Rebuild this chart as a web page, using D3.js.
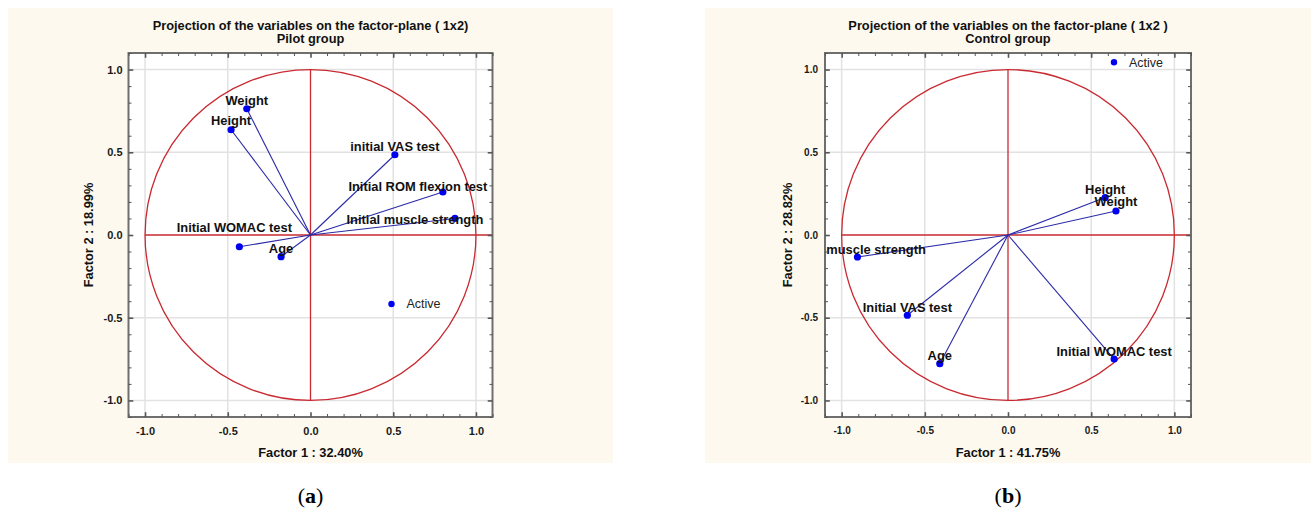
<!DOCTYPE html>
<html>
<head>
<meta charset="utf-8">
<script src="https://cdn.jsdelivr.net/npm/d3@7"></script>
<style>
  html, body { margin: 0; padding: 0; background: #ffffff; }
  svg { display: block; font-family: "Liberation Sans", Arial, sans-serif; }
</style>
</head>
<body>
<svg id="chart" width="1311" height="518"></svg>
<script>
// ---------- data ----------
const pilotVariables = ["Weight", "Height", "initial VAS test", "Initial ROM flexion test", "Initial muscle strength", "Initial WOMAC test", "Age"];
const pilotFactor1 = [-0.385, -0.48, 0.51, 0.80, 0.873, -0.43, -0.178];
const pilotFactor2 = [0.763, 0.636, 0.485, 0.26, 0.10, -0.071, -0.131];

const controlVariables = ["Height", "Weight", "Initial muscle strength", "Initial VAS test", "Age", "Initial WOMAC test"];
const controlFactor1 = [0.584, 0.649, -0.905, -0.605, -0.41, 0.638];
const controlFactor2 = [0.226, 0.145, -0.133, -0.485, -0.778, -0.75];

const tickLabels = [-1.0, -0.5, 0.0, 0.5, 1.0];
const minorTicks = d3.range(-11, 12).map(i => i / 10);
const pilotTitle = ["Projection of the variables on the factor-plane ( 1x2)", "Pilot group"];
const controlTitle = ["Projection of the variables on the factor-plane ( 1x2 )", "Control group"];
const pilotAxes = ["Factor 1 : 32.40%", "Factor 2 : 18.99%"];
const controlAxes = ["Factor 1 : 41.75%", "Factor 2 : 28.82%"];
const legendLabel = "Active";
const panelLetters = ["a", "b"];

// ---------- layout (label nudges in px: [dx, dy of baseline]) ----------
const pilotLabelOffsets = [[0, -4], [0, -5], [0, -4], [-25, -1], [-40, 6], [-5, -15], [0, -4]];
const controlLabelOffsets = [[0, -4], [0, -5], [0, -3], [0, -3], [0, -4], [0, -3]];

const svg = d3.select("#chart");
const RED = "#c92a31";
const BLUE_LINE = "#2a2aa8";
const BLUE_PT = "#0000f0";

function drawPanel(opt) {
  const g = svg.append("g");
  g.append("rect").attr("x", opt.bg[0]).attr("y", opt.bg[1]).attr("width", opt.bg[2]).attr("height", opt.bg[3]).attr("fill", "#fdf9ee");

  const L = opt.L, T = 53, W = opt.W, H = 364;
  const x = d3.scaleLinear().domain([-1.1, 1.1]).range([L, L + W]);
  const y = d3.scaleLinear().domain([-1.1, 1.1]).range([T + H, T]);

  g.append("rect").attr("x", L).attr("y", T).attr("width", W).attr("height", H).attr("fill", "#ffffff");

  const gridVals = tickLabels.filter(v => v !== 0);
  g.append("g").selectAll("line").data(gridVals).join("line")
    .attr("x1", d => x(d)).attr("x2", d => x(d)).attr("y1", T).attr("y2", T + H)
    .attr("stroke", "#e2e2e2").attr("stroke-width", 1.5);
  g.append("g").selectAll("line").data(gridVals).join("line")
    .attr("y1", d => y(d)).attr("y2", d => y(d)).attr("x1", L).attr("x2", L + W)
    .attr("stroke", "#e2e2e2").attr("stroke-width", 1.5);

  const clipId = "clip-" + opt.id;
  svg.append("defs").append("clipPath").attr("id", clipId)
    .append("rect").attr("x", L).attr("y", T).attr("width", W).attr("height", H);
  const plot = g.append("g").attr("clip-path", `url(#${clipId})`);

  plot.append("ellipse").attr("cx", x(0)).attr("cy", y(0))
    .attr("rx", x(1) - x(0)).attr("ry", y(0) - y(1))
    .attr("fill", "none").attr("stroke", RED).attr("stroke-width", 1.3);
  plot.append("line").attr("x1", x(-1)).attr("x2", x(1.1)).attr("y1", y(0)).attr("y2", y(0))
    .attr("stroke", RED).attr("stroke-width", 1.3);
  plot.append("line").attr("x1", x(0)).attr("x2", x(0)).attr("y1", y(-1)).attr("y2", y(1))
    .attr("stroke", RED).attr("stroke-width", 1.3);

  const rows = opt.vars.map((name, i) => ({ name, f1: opt.f1[i], f2: opt.f2[i], off: opt.offsets[i] }));

  plot.append("g").selectAll("line").data(rows).join("line")
    .attr("x1", x(0)).attr("y1", y(0)).attr("x2", d => x(d.f1)).attr("y2", d => y(d.f2))
    .attr("stroke", BLUE_LINE).attr("stroke-width", 1.1);
  plot.append("g").selectAll("circle").data(rows).join("circle")
    .attr("cx", d => x(d.f1)).attr("cy", d => y(d.f2)).attr("r", 3.6).attr("fill", BLUE_PT);
  plot.append("g").selectAll("text").data(rows).join("text")
    .attr("x", d => x(d.f1) + d.off[0]).attr("y", d => y(d.f2) + d.off[1])
    .attr("text-anchor", "middle").attr("font-size", 12.9).attr("font-weight", "bold")
    .attr("fill", "#111").text(d => d.name);

  const lg = g.append("g").attr("transform", `translate(${L + opt.legend[0]},${T + opt.legend[1]})`);
  lg.append("circle").attr("cx", 0).attr("cy", 0).attr("r", 3.2).attr("fill", BLUE_PT);
  lg.append("text").attr("x", 15).attr("y", 4.3).attr("font-size", 12.5).attr("fill", "#222").text(legendLabel);

  g.append("rect").attr("x", L).attr("y", T).attr("width", W).attr("height", H)
    .attr("fill", "none").attr("stroke", "#6f6f6f").attr("stroke-width", 2);

  const tickStyle = sel => {
    sel.select(".domain").remove();
    sel.selectAll("text").remove();
    sel.selectAll("line").attr("stroke", "#555").attr("stroke-width", 1);
  };
  const isMajor = d => Math.abs(Math.round(d * 10) % 5) === 0;
  const mk = (axisFn, scale, tr) => {
    const a = g.append("g").attr("transform", tr)
      .call(axisFn(scale).tickValues(minorTicks).tickSize(-3))
      .call(tickStyle);
    a.selectAll("g.tick line").filter(d => isMajor(d))
      .attr("stroke-width", 1.6).each(function() {
        const el = d3.select(this);
        ["x2", "y2"].forEach(k => { const v = +el.attr(k); if (v) el.attr(k, v * 1.6); });
      });
  };
  mk(d3.axisTop, x, `translate(0,${T})`);
  mk(d3.axisBottom, x, `translate(0,${T + H})`);
  mk(d3.axisLeft, y, `translate(${L},0)`);
  mk(d3.axisRight, y, `translate(${L + W},0)`);

  const fmt = d => d.toFixed(1);
  const lab = g.append("g").attr("transform", `translate(0,${T + H})`)
    .call(d3.axisBottom(x).tickValues(tickLabels).tickFormat(fmt).tickSize(0).tickPadding(opt.xPad));
  lab.select(".domain").remove();
  lab.selectAll("text").attr("font-size", opt.tickFont).attr("font-weight", "bold")
    .attr("font-family", "Liberation Sans, Arial, sans-serif").attr("fill", "#1a1a1a");
  const laby = g.append("g").attr("transform", `translate(${L},0)`)
    .call(d3.axisLeft(y).tickValues(tickLabels).tickFormat(fmt).tickSize(0).tickPadding(opt.yPad));
  laby.select(".domain").remove();
  laby.selectAll("text").attr("font-size", opt.tickFont).attr("font-weight", "bold")
    .attr("font-family", "Liberation Sans, Arial, sans-serif").attr("fill", "#1a1a1a");

  g.append("text").attr("x", x(0)).attr("y", 456.5).attr("text-anchor", "middle")
    .attr("font-size", 12.8).attr("font-weight", "bold").attr("fill", "#111").text(opt.axes[0]);
  g.append("text").attr("transform", `translate(${L - opt.yTitleGap},${y(0)}) rotate(-90)`)
    .attr("text-anchor", "middle").attr("dy", "0.35em")
    .attr("font-size", 12.8).attr("font-weight", "bold").attr("fill", "#111").text(opt.axes[1]);

  g.append("text").attr("x", x(0)).attr("y", 29.5).attr("text-anchor", "middle")
    .attr("font-size", 12.8).attr("font-weight", "bold").attr("fill", "#111").text(opt.title[0]);
  g.append("text").attr("x", x(0)).attr("y", 43).attr("text-anchor", "middle")
    .attr("font-size", 12.8).attr("font-weight", "bold").attr("fill", "#111").text(opt.title[1]);

  const pl = svg.append("text").attr("x", x(0)).attr("y", 503).attr("text-anchor", "middle")
    .attr("font-family", "Liberation Serif, 'Times New Roman', serif").attr("font-size", 22).attr("fill", "#000");
  pl.append("tspan").text("(");
  pl.append("tspan").attr("font-weight", "bold").text(opt.letter);
  pl.append("tspan").text(")");
}

drawPanel({
  id: "pilot", bg: [8, 8, 605, 455], L: 128.5, W: 364,
  vars: pilotVariables, f1: pilotFactor1, f2: pilotFactor2, offsets: pilotLabelOffsets,
  legend: [263, 251], title: pilotTitle, axes: pilotAxes, letter: panelLetters[0],
  tickFont: 11, xPad: 10, yPad: 6, yTitleGap: 40
});
drawPanel({
  id: "control", bg: [705, 8, 606, 455], L: 825, W: 366,
  vars: controlVariables, f1: controlFactor1, f2: controlFactor2, offsets: controlLabelOffsets,
  legend: [289, 9.3], title: controlTitle, axes: controlAxes, letter: panelLetters[1],
  tickFont: 10, xPad: 10, yPad: 7, yTitleGap: 37
});
</script>
</body>
</html>
